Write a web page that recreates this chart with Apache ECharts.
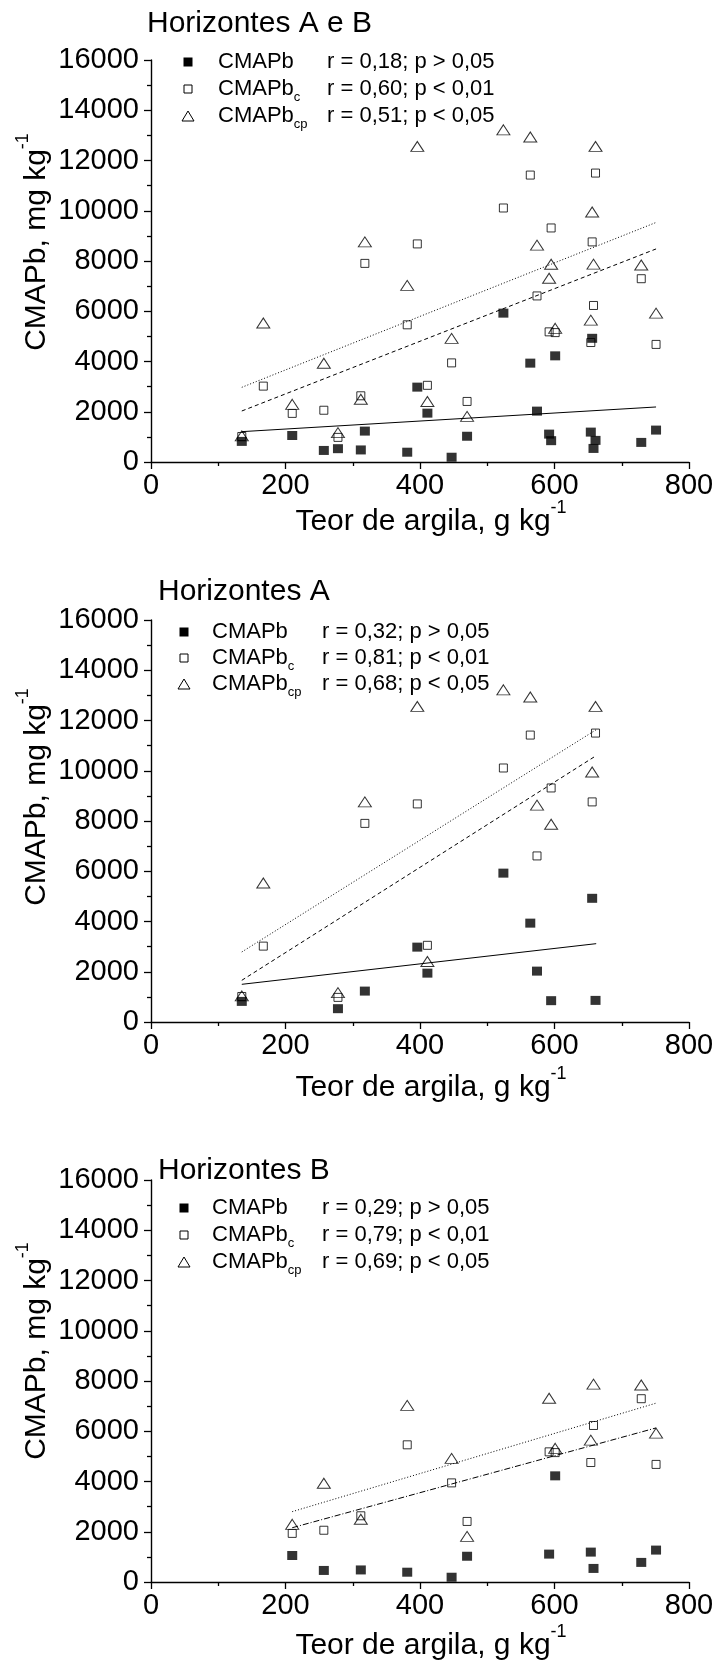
<!DOCTYPE html>
<html>
<head>
<meta charset="utf-8">
<script src="https://cdn.jsdelivr.net/npm/echarts@6/dist/echarts.min.js"></script>
<style>
  html, body { margin: 0; padding: 0; background: #fff; }
  #chart { width: 719px; height: 1663px; }
</style>
</head>
<body>
<div id="chart"></div>
<script>
// Clay content (g kg-1) and Pb adsorption capacities (mg kg-1), A horizons
const clayA    = [135, 167, 278, 318, 396, 411, 524, 564, 574, 595, 656, 661];
const cmapbA   = [820, null, 530, 1230, 2980, 1945, 5925, 3935, 2025, 849, 4923, 860];
const cmapbCA  = [1015, 3020, 980, 7905, 8680, 3052, 10110, 11420, 6610, 9315, 8760, 11500];
const cmapbCpA = [1040, 5530, 1168, 8760, 12560, 2410, 13220, 12935, 8630, 7870, 9950, 12560];

// B horizons
const clayB    = [210, 257, 312, 381, 447, 470, 592, 601, 654, 658, 729, 751];
const cmapbB   = [1055, 460, 480, 390, 190, 1025, 1110, 4225, 1190, 540, 780, 1270];
const cmapbCB  = [1935, 2060, 2635, 5460, 3945, 2410, 5180, 5150, 4755, 6230, 7295, 4680];
const cmapbCpB = [2295, 3930, 2500, 7030, 4920, 1815, 7315, 5320, 5645, 7875, 7840, 5925];

// Fitted regression lines, end points [clay, value]
const fitAB_b  = [[135, 1208], [751, 2190]];
const fitAB_c  = [[135, 2030], [751, 8480]];
const fitAB_cp = [[135, 2972], [751, 9534]];
const fitA_b   = [[135, 1500], [662, 3118]];
const fitA_c   = [[135, 1659], [662, 10602]];
const fitA_cp  = [[135, 2787], [662, 11634]];
const fitB_c   = [[210, 2160], [751, 6132]];
const fitB_cp  = [[210, 2800], [751, 7118]];

// Correlation statistics and panel titles
const statsAB = ['r = 0,18; p > 0,05', 'r = 0,60; p < 0,01', 'r = 0,51; p < 0,05'];
const statsA  = ['r = 0,32; p > 0,05', 'r = 0,81; p < 0,01', 'r = 0,68; p < 0,05'];
const statsB  = ['r = 0,29; p > 0,05', 'r = 0,79; p < 0,01', 'r = 0,69; p < 0,05'];
const panelTitles = ['Horizontes A e B', 'Horizontes A', 'Horizontes B'];
const seriesNames = ['CMAPb', 'CMAPb', 'CMAPb'];
const seriesSubs  = ['', 'c', 'cp'];
const xAxisTitle = 'Teor de argila, g kg';
const yAxisTitle = 'CMAPb, mg kg';
const unitSup = '-1';

const FONT = '"Liberation Sans", Arial, Helvetica, sans-serif';

function pairs(xs, ys) {
  const out = [];
  xs.forEach((x, i) => { if (ys[i] != null) out.push([x, ys[i]]); });
  return out;
}

const panels = [
  {
    b: pairs(clayA.concat(clayB), cmapbA.concat(cmapbB)),
    c: pairs(clayA.concat(clayB), cmapbCA.concat(cmapbCB)),
    cp: pairs(clayA.concat(clayB), cmapbCpA.concat(cmapbCpB)),
    fits: [[fitAB_b, 'solid'], [fitAB_c, [4, 3]], [fitAB_cp, [1, 2]]],
    stats: statsAB, title: panelTitles[0],
    top: 60, titleX: 147, titleY: 24, rows: [62, 89, 116], markX: 188, nameX: 218, statX: 327,
    yNameY: 242, xNameGap: 60
  },
  {
    b: pairs(clayA, cmapbA), c: pairs(clayA, cmapbCA), cp: pairs(clayA, cmapbCpA),
    fits: [[fitA_b, 'solid'], [fitA_c, [4, 3]], [fitA_cp, [1, 2]]],
    stats: statsA, title: panelTitles[1],
    top: 620, titleX: 158, titleY: 592, rows: [632, 658, 684], markX: 184, nameX: 212, statX: 322,
    yNameY: 797, xNameGap: 66
  },
  {
    b: pairs(clayB, cmapbB), c: pairs(clayB, cmapbCB), cp: pairs(clayB, cmapbCpB),
    fits: [[fitB_c, [6, 2, 1, 2]], [fitB_cp, [1, 2]]],
    stats: statsB, title: panelTitles[2],
    top: 1180, titleX: 158, titleY: 1171, rows: [1208, 1235, 1262], markX: 184, nameX: 212, statX: 322,
    yNameY: 1351, xNameGap: 64
  }
];

const GRID_LEFT = 151, GRID_W = 538, GRID_H = 402;

const grids = [], xAxes = [], yAxes = [], series = [], graphics = [];

const axisCommon = {
  axisLine: { lineStyle: { color: '#000', width: 1.4 } },
  axisTick: { inside: false, length: 7, lineStyle: { color: '#000', width: 1.3 } },
  minorTick: { show: true, splitNumber: 2, length: 4, lineStyle: { color: '#000', width: 1.3 } },
  splitLine: { show: false },
  minorSplitLine: { show: false }
};
const tickLabel = (margin) => ({
  fontSize: 29, fontFamily: FONT, color: '#000', margin: margin,
  showMinLabel: true, showMaxLabel: true,
  formatter: (v) => String(v)
});

panels.forEach((p, i) => {
  grids.push({ left: GRID_LEFT, top: p.top, width: GRID_W, height: GRID_H, outerBoundsMode: 'none' });
  xAxes.push(Object.assign({
    type: 'value', gridIndex: i, min: 0, max: 800, interval: 200, axisLabel: tickLabel(9)
  }, axisCommon));
  yAxes.push(Object.assign({
    type: 'value', gridIndex: i, min: 0, max: 16000, interval: 2000, axisLabel: tickLabel(12)
  }, axisCommon));

  const base = { type: 'scatter', xAxisIndex: i, yAxisIndex: i, silent: true };
  series.push(Object.assign({}, base, {
    name: 'CMAPb', data: p.b, symbol: 'rect', symbolSize: [10, 9],
    itemStyle: { color: '#000' }, z: 2
  }));
  series.push(Object.assign({}, base, {
    name: 'CMAPb_c', data: p.c, symbol: 'rect', symbolSize: 8,
    itemStyle: { color: 'rgba(255,255,255,0)', borderColor: '#000', borderWidth: 1 }, z: 3
  }));
  series.push(Object.assign({}, base, {
    name: 'CMAPb_cp', data: p.cp, symbol: 'triangle', symbolSize: [13, 10],
    itemStyle: { color: 'rgba(255,255,255,0)', borderColor: '#000', borderWidth: 1 }, z: 4
  }));
  p.fits.forEach(([pts, dash]) => {
    series.push({
      type: 'line', xAxisIndex: i, yAxisIndex: i, data: pts, symbol: 'none', silent: true,
      lineStyle: { color: '#000', width: 1, type: dash }, z: 5
    });
  });

  // panel title
  graphics.push({
    type: 'text', x: p.titleX, y: p.titleY,
    style: { text: p.title, font: '30px ' + FONT, fill: '#000', align: 'left', verticalAlign: 'middle' }
  });

  // key: marker, series name with subscript, statistics
  p.rows.forEach((ry, k) => {
    const mx = p.markX;
    if (k === 0) {
      graphics.push({ type: 'rect', shape: { x: mx - 4.5, y: ry - 4.5, width: 9, height: 9 }, style: { fill: '#000' } });
    } else if (k === 1) {
      graphics.push({ type: 'rect', shape: { x: mx - 4, y: ry - 4, width: 8, height: 8 }, style: { fill: 'none', stroke: '#000', lineWidth: 1 } });
    } else {
      graphics.push({ type: 'polygon', shape: { points: [[mx - 6, ry + 5], [mx + 6, ry + 5], [mx, ry - 5]] }, style: { fill: 'none', stroke: '#000', lineWidth: 1 } });
    }
    graphics.push({
      type: 'text', x: p.nameX, y: ry,
      style: {
        text: '{m|' + seriesNames[k] + '}' + (seriesSubs[k] ? '{s|' + seriesSubs[k] + '}' : ''),
        align: 'left', verticalAlign: 'middle', fill: '#000',
        rich: {
          m: { fontSize: 22, fontFamily: FONT, lineHeight: 30, fill: '#000' },
          s: { fontSize: 13, fontFamily: FONT, lineHeight: 13, verticalAlign: 'bottom', fill: '#000' }
        }
      }
    });
    graphics.push({
      type: 'text', x: p.statX, y: ry,
      style: { text: p.stats[k], font: '22px ' + FONT, fill: '#000', align: 'left', verticalAlign: 'middle' }
    });
  });

  // axis titles with superscript unit exponent
  const titleRich = {
    m: { fontSize: 30, fontFamily: FONT, lineHeight: 46, fill: '#000' },
    p: { fontSize: 18, fontFamily: FONT, lineHeight: 18, verticalAlign: 'top', fill: '#000' }
  };
  graphics.push({
    type: 'text', x: 431, y: p.top + GRID_H + p.xNameGap,
    style: { text: '{m|' + xAxisTitle + '}{p|' + unitSup + '}', align: 'center', verticalAlign: 'middle', fill: '#000', rich: titleRich }
  });
  graphics.push({
    type: 'text', x: 37, y: p.yNameY, rotation: Math.PI / 2,
    style: { text: '{m|' + yAxisTitle + '}{p|' + unitSup + '}', align: 'center', verticalAlign: 'middle', fill: '#000', rich: titleRich }
  });
});

const chart = echarts.init(document.getElementById('chart'), null, { renderer: 'canvas' });
chart.setOption({
  animation: false,
  backgroundColor: '#fff',
  grid: grids,
  xAxis: xAxes,
  yAxis: yAxes,
  series: series,
  graphic: graphics
});
</script>
</body>
</html>
